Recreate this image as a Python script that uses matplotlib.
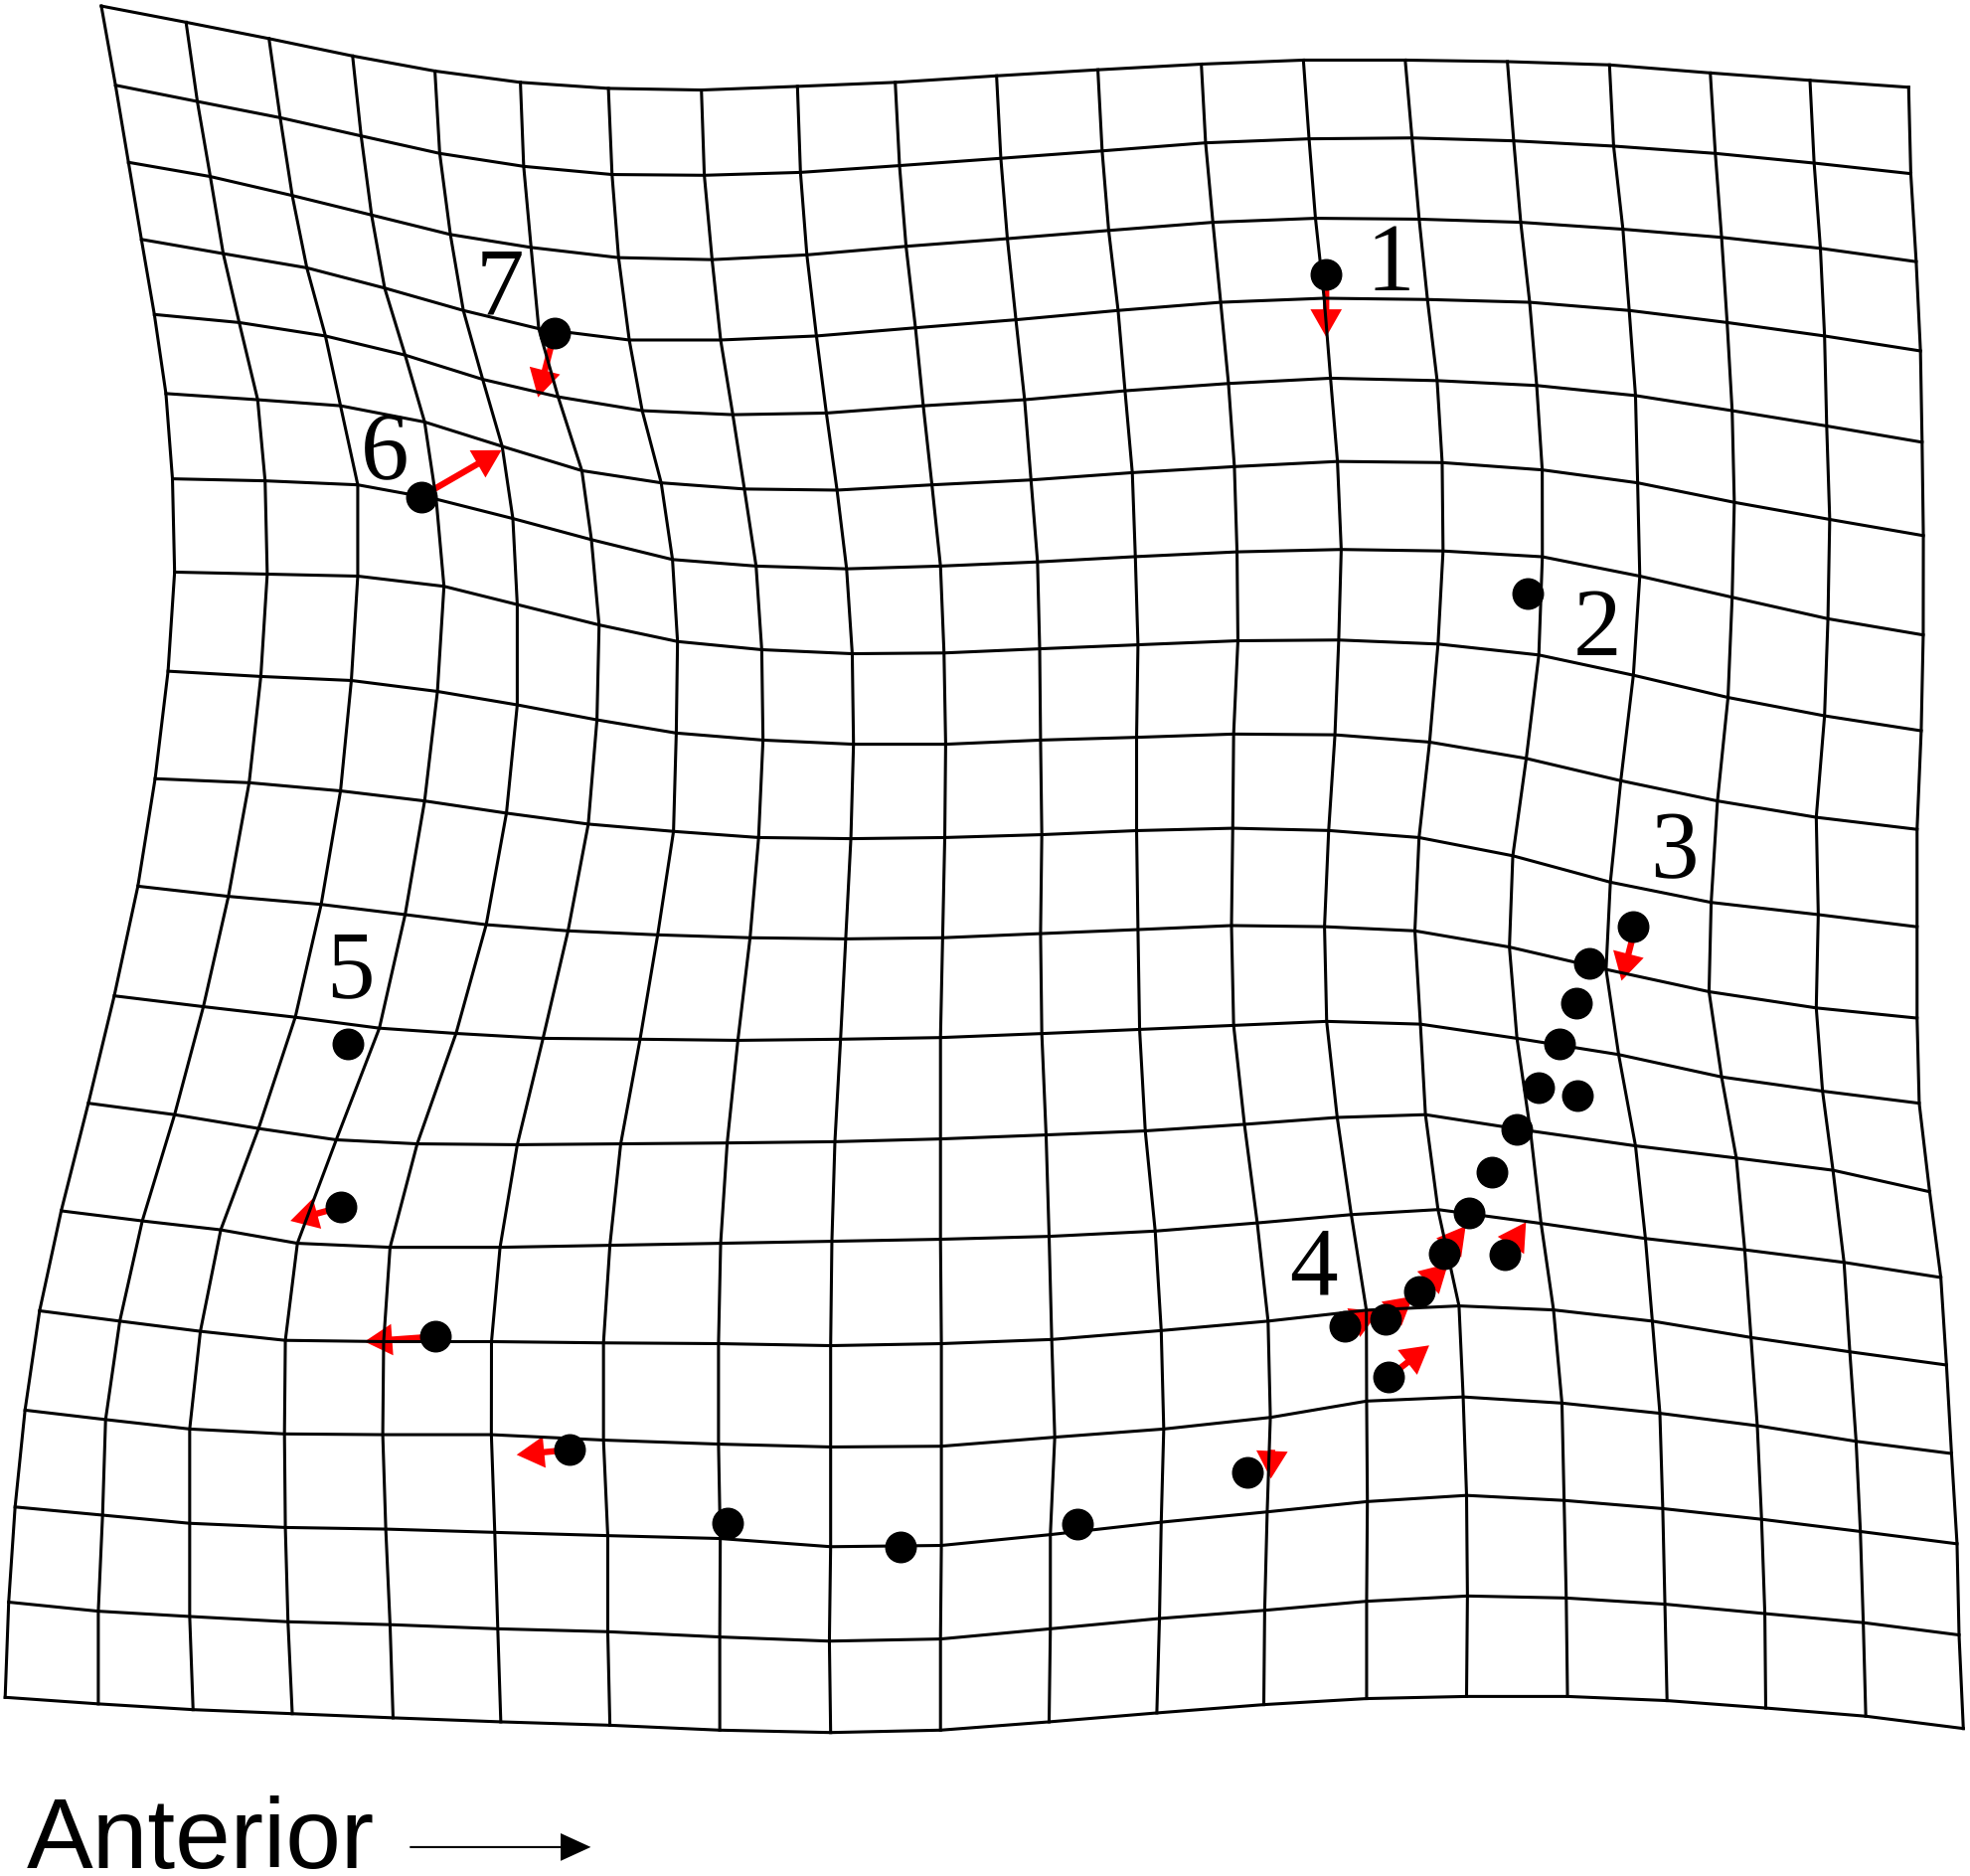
import numpy as np
import matplotlib
matplotlib.use('Agg')
import matplotlib.pyplot as plt

# deformation grid (units: pixels of the 1568x1492 view)
# x of every node, one list per vertical line (top -> bottom)
grid_col_x = [
    [80.6, 91.9, 102.2, 112.5, 122.8, 132.0, 137.2, 138.9, 133.7, 123.4, 109.7, 90.9, 70.3, 48.7, 31.5, 19.9, 12.0, 6.9, 4.1],
    [148.0, 157.0, 167.3, 177.6, 190.3, 205.0, 210.9, 212.6, 207.5, 198.2, 181.7, 161.8, 138.9, 113.2, 95.3, 84.0, 81.6, 78.2, 78.2],
    [214.0, 222.9, 232.5, 244.1, 258.9, 270.9, 284.6, 284.6, 279.5, 270.9, 255.5, 234.9, 205.7, 175.6, 159.4, 150.9, 150.9, 150.9, 153.6],
    [280.5, 287.3, 295.6, 306.0, 322.3, 337.8, 347.0, 353.2, 348.0, 337.8, 322.3, 301.8, 267.5, 236.6, 227.0, 226.3, 227.0, 229.1, 232.5],
    [346.0, 349.8, 358.3, 368.6, 384.0, 399.5, 408.0, 411.5, 411.5, 402.9, 386.8, 362.8, 331.9, 310.3, 305.2, 304.5, 306.9, 310.3, 312.7],
    [414.0, 416.6, 422.5, 428.6, 444.0, 462.9, 470.5, 476.6, 474.9, 468.0, 451.9, 432.0, 411.5, 397.8, 391.0, 390.9, 393.6, 396.0, 398.4],
    [484.0, 486.9, 492.1, 500.6, 510.9, 526.0, 535.0, 539.0, 538.0, 535.8, 523.2, 509.2, 493.8, 485.2, 480.1, 480.1, 483.5, 483.5, 485.2],
    [558.0, 560.3, 566.5, 573.3, 583.0, 592.2, 601.5, 606.0, 607.0, 603.5, 596.7, 587.0, 578.5, 573.3, 571.6, 571.6, 573.0, 572.6, 572.6],
    [634.4, 636.8, 641.9, 649.5, 657.4, 665.9, 673.5, 678.0, 679.0, 676.9, 672.8, 668.7, 664.2, 661.8, 660.8, 660.8, 660.8, 659.8, 660.8],
    [712.2, 715.6, 720.8, 728.3, 734.5, 741.4, 748.2, 751.0, 752.3, 751.6, 749.9, 748.2, 748.2, 748.2, 748.9, 748.9, 748.9, 748.2, 748.2],
    [792.8, 796.2, 801.4, 808.2, 815.1, 820.2, 825.4, 827.1, 827.8, 828.8, 827.8, 828.8, 832.2, 834.6, 836.7, 839.1, 835.6, 835.6, 834.6],
    [873.4, 876.8, 882.0, 889.5, 895.0, 900.8, 903.2, 905.3, 904.2, 904.2, 905.3, 906.6, 911.1, 919.0, 923.8, 925.8, 923.8, 922.4, 920.3],
    [955.7, 959.1, 964.9, 971.1, 977.3, 982.0, 984.1, 984.8, 981.4, 980.7, 979.7, 981.4, 990.0, 1000.2, 1008.8, 1010.6, 1008.1, 1006.1, 1005.4],
    [1036.9, 1041.4, 1046.5, 1053.4, 1058.5, 1064.0, 1067.0, 1065.0, 1062.0, 1057.0, 1053.7, 1055.4, 1063.8, 1075.0, 1087.0, 1087.2, 1087.8, 1087.2, 1087.2],
    [1117.9, 1123.3, 1129.0, 1135.6, 1143.3, 1147.3, 1148.0, 1144.0, 1137.3, 1128.9, 1125.6, 1130.0, 1134.0, 1144.0, 1160.7, 1164.0, 1166.7, 1167.4, 1166.7],
    [1199.2, 1204.2, 1209.8, 1216.9, 1222.5, 1226.9, 1227.0, 1224.2, 1214.2, 1203.5, 1200.8, 1206.8, 1217.5, 1226.0, 1235.9, 1242.6, 1244.3, 1246.0, 1247.0],
    [1280.4, 1283.7, 1291.1, 1296.1, 1301.1, 1302.8, 1304.5, 1299.4, 1289.4, 1281.1, 1277.7, 1287.7, 1301.1, 1309.0, 1314.5, 1320.5, 1322.8, 1324.5, 1326.2],
    [1360.6, 1364.6, 1369.6, 1374.0, 1378.0, 1379.7, 1378.0, 1374.7, 1366.3, 1361.3, 1359.6, 1369.6, 1381.3, 1388.0, 1393.0, 1398.0, 1401.4, 1404.0, 1404.7],
    [1439.9, 1443.2, 1448.2, 1451.5, 1453.2, 1455.6, 1454.2, 1451.5, 1444.9, 1446.5, 1444.9, 1449.9, 1458.2, 1467.0, 1471.6, 1476.6, 1480.0, 1482.3, 1484.3],
    [1518.4, 1520.1, 1524.4, 1527.8, 1529.1, 1530.1, 1530.0, 1528.4, 1525.1, 1525.1, 1525.1, 1526.8, 1535.1, 1544.0, 1548.5, 1552.5, 1556.9, 1558.5, 1561.9],
]

# y of every node, one list per horizontal line (left -> right)
grid_row_y = [
    [4.8, 17.7, 30.7, 44.5, 56.5, 65.5, 70.3, 71.6, 68.7, 65.5, 60.3, 55.5, 51.0, 47.8, 47.8, 49.0, 51.6, 58.0, 63.9, 69.4],
    [67.8, 80.7, 93.6, 108.1, 122.0, 132.3, 138.8, 139.4, 137.1, 131.7, 125.9, 120.0, 113.6, 110.4, 109.7, 112.0, 116.2, 122.0, 129.7, 138.1],
    [129.1, 140.4, 155.5, 171.0, 186.5, 196.8, 204.9, 206.5, 202.7, 195.9, 189.8, 183.3, 176.8, 173.6, 174.3, 176.8, 182.3, 188.8, 197.5, 208.1],
    [190.4, 201.7, 213.0, 229.1, 246.9, 261.4, 270.4, 270.4, 267.2, 260.7, 254.3, 246.9, 240.4, 237.2, 238.2, 240.4, 246.9, 256.5, 267.2, 279.1],
    [250.1, 256.5, 267.2, 282.4, 301.7, 315.6, 326.6, 329.8, 328.5, 322.7, 317.9, 310.8, 305.0, 300.8, 302.7, 306.6, 314.6, 326.6, 338.8, 351.7],
    [313.0, 317.9, 322.7, 335.6, 355.0, 374.3, 384.0, 388.9, 389.8, 385.6, 381.7, 375.9, 371.1, 367.0, 367.9, 373.7, 384.0, 399.5, 413.1, 426.0],
    [380.8, 382.4, 385.6, 397.0, 412.4, 429.2, 445.0, 450.2, 452.4, 450.2, 446.9, 442.7, 438.9, 437.0, 438.2, 442.8, 458.2, 475.0, 492.1, 505.0],
    [455.0, 456.6, 458.2, 466.3, 480.8, 497.0, 510.2, 516.7, 519.9, 519.3, 516.0, 512.8, 509.6, 509.0, 512.2, 520.9, 537.0, 554.7, 569.3, 581.2],
    [533.8, 538.0, 541.2, 549.9, 560.6, 572.5, 583.0, 588.6, 591.9, 591.9, 588.6, 586.4, 583.8, 584.4, 590.2, 603.2, 620.9, 637.0, 650.0, 659.6],
    [619.3, 622.5, 629.0, 637.0, 646.7, 655.4, 661.2, 666.1, 667.0, 666.1, 663.8, 660.6, 658.7, 660.5, 666.1, 680.6, 701.6, 717.7, 727.4, 737.1],
    [704.8, 712.9, 719.3, 727.4, 735.4, 740.3, 743.5, 745.8, 746.7, 745.8, 742.5, 739.3, 736.1, 737.0, 740.3, 753.2, 771.0, 788.7, 801.6, 809.7],
    [792.0, 800.6, 809.0, 817.7, 821.9, 825.8, 826.5, 827.4, 826.5, 825.2, 822.0, 818.7, 815.5, 812.3, 814.5, 825.8, 838.7, 856.5, 867.8, 877.4],
    [877.4, 886.5, 897.5, 906.5, 909.7, 910.4, 909.7, 909.0, 908.0, 905.8, 902.6, 899.4, 894.2, 888.7, 886.5, 899.4, 911.3, 921.0, 930.7, 947.8],
    [963.0, 971.0, 978.1, 988.8, 992.0, 992.0, 990.4, 988.8, 987.2, 985.6, 983.3, 979.1, 972.6, 966.0, 962.0, 973.0, 985.0, 994.0, 1004.0, 1016.0],
    [1042.5, 1050.7, 1058.8, 1066.0, 1067.0, 1067.0, 1068.0, 1068.6, 1070.2, 1068.6, 1065.3, 1058.2, 1050.7, 1042.0, 1038.6, 1041.8, 1050.7, 1063.7, 1075.1, 1085.6],
    [1121.5, 1129.0, 1136.5, 1140.4, 1141.0, 1141.0, 1145.3, 1148.5, 1150.8, 1150.2, 1143.0, 1136.5, 1127.3, 1114.3, 1111.0, 1115.9, 1124.0, 1133.9, 1146.3, 1156.0],
    [1198.5, 1205.0, 1211.5, 1214.8, 1216.1, 1218.7, 1221.3, 1223.6, 1230.1, 1229.1, 1220.5, 1210.6, 1202.4, 1194.2, 1189.3, 1193.3, 1199.8, 1208.3, 1218.0, 1227.8],
    [1274.2, 1281.4, 1285.6, 1289.8, 1292.1, 1295.4, 1297.7, 1301.9, 1305.2, 1303.5, 1295.4, 1287.2, 1280.7, 1273.5, 1269.3, 1270.9, 1275.8, 1283.3, 1290.5, 1300.3],
    [1349.9, 1355.1, 1359.7, 1362.9, 1366.2, 1369.4, 1372.1, 1376.0, 1377.9, 1376.0, 1369.4, 1362.3, 1355.7, 1350.9, 1349.2, 1349.2, 1352.5, 1358.4, 1364.9, 1374.7],
]

# landmarks (black dots)
landmark_x = [1055, 1215, 1299, 1264, 1254, 1241, 1224, 1255, 1207, 1187, 1169, 1149, 1197, 1129, 1102, 1070, 1105,
              992, 857, 716, 579, 453, 346, 271, 277, 335, 441]
landmark_y = [218, 472, 737, 766, 798, 830, 865, 871, 898, 932, 965, 997, 998, 1027, 1049, 1055, 1095,
              1171, 1212, 1230, 1211, 1153, 1063, 960, 830, 395, 265]

# displacement vectors (red arrows): start and tip
vec_x0 = [1055, 1299, 1149, 1129, 1102, 1070, 1197, 1105, 1012, 453, 346, 271, 335, 441]
vec_y0 = [226, 745, 997, 1027, 1049, 1055, 998, 1095, 1153, 1153, 1063, 960, 395, 265]
vec_x1 = [1055, 1290, 1166, 1152, 1124, 1097, 1214, 1137, 1011, 411, 290, 231, 399, 428]
vec_y1 = [268, 780, 975, 1005, 1031, 1043, 972, 1070, 1176, 1157, 1067, 971, 358, 316]

# landmark numbers
label_text = ['1', '2', '3', '4', '5', '6', '7']
label_x = [1106, 1271, 1332, 1045, 279, 306, 398]
label_y = [231, 521, 698, 1029, 793, 381, 250]

fig = plt.figure(figsize=(19.83, 18.87), dpi=100)
ax = fig.add_axes([0, 0, 1, 1])
ax.set_xlim(0, 1568)
ax.set_ylim(1492, 0)
ax.axis('off')

gx = np.array(grid_col_x).T   # rows x cols
gy = np.array(grid_row_y)

for i in range(gy.shape[0]):
    ax.plot(gx[i], gy[i], color='black', lw=2.2, solid_joinstyle='round', zorder=2)
for j in range(gx.shape[1]):
    ax.plot(gx[:, j], gy[:, j], color='black', lw=2.2, solid_joinstyle='round', zorder=2)

for x0, y0, x1, y1 in zip(vec_x0, vec_y0, vec_x1, vec_y1):
    ax.arrow(x0, y0, x1 - x0, y1 - y0, width=5, head_width=25, head_length=22,
             length_includes_head=True, color='#ff0000', lw=0, zorder=1.5)

ax.plot(landmark_x, landmark_y, 'o', color='black', ms=22, zorder=4)

for s, x, y in zip(label_text, label_x, label_y):
    ax.text(x, y, s, fontfamily='Liberation Serif', fontsize=70, ha='center', va='baseline', zorder=5)

ax.text(21, 1486, 'Anterior', fontfamily='Liberation Sans', fontsize=72, ha='left', va='baseline')
ax.arrow(326, 1469, 144, 0, width=1.6, head_width=22, head_length=24,
         length_includes_head=True, color='black', lw=0)

fig.savefig('out.png', dpi=100)
